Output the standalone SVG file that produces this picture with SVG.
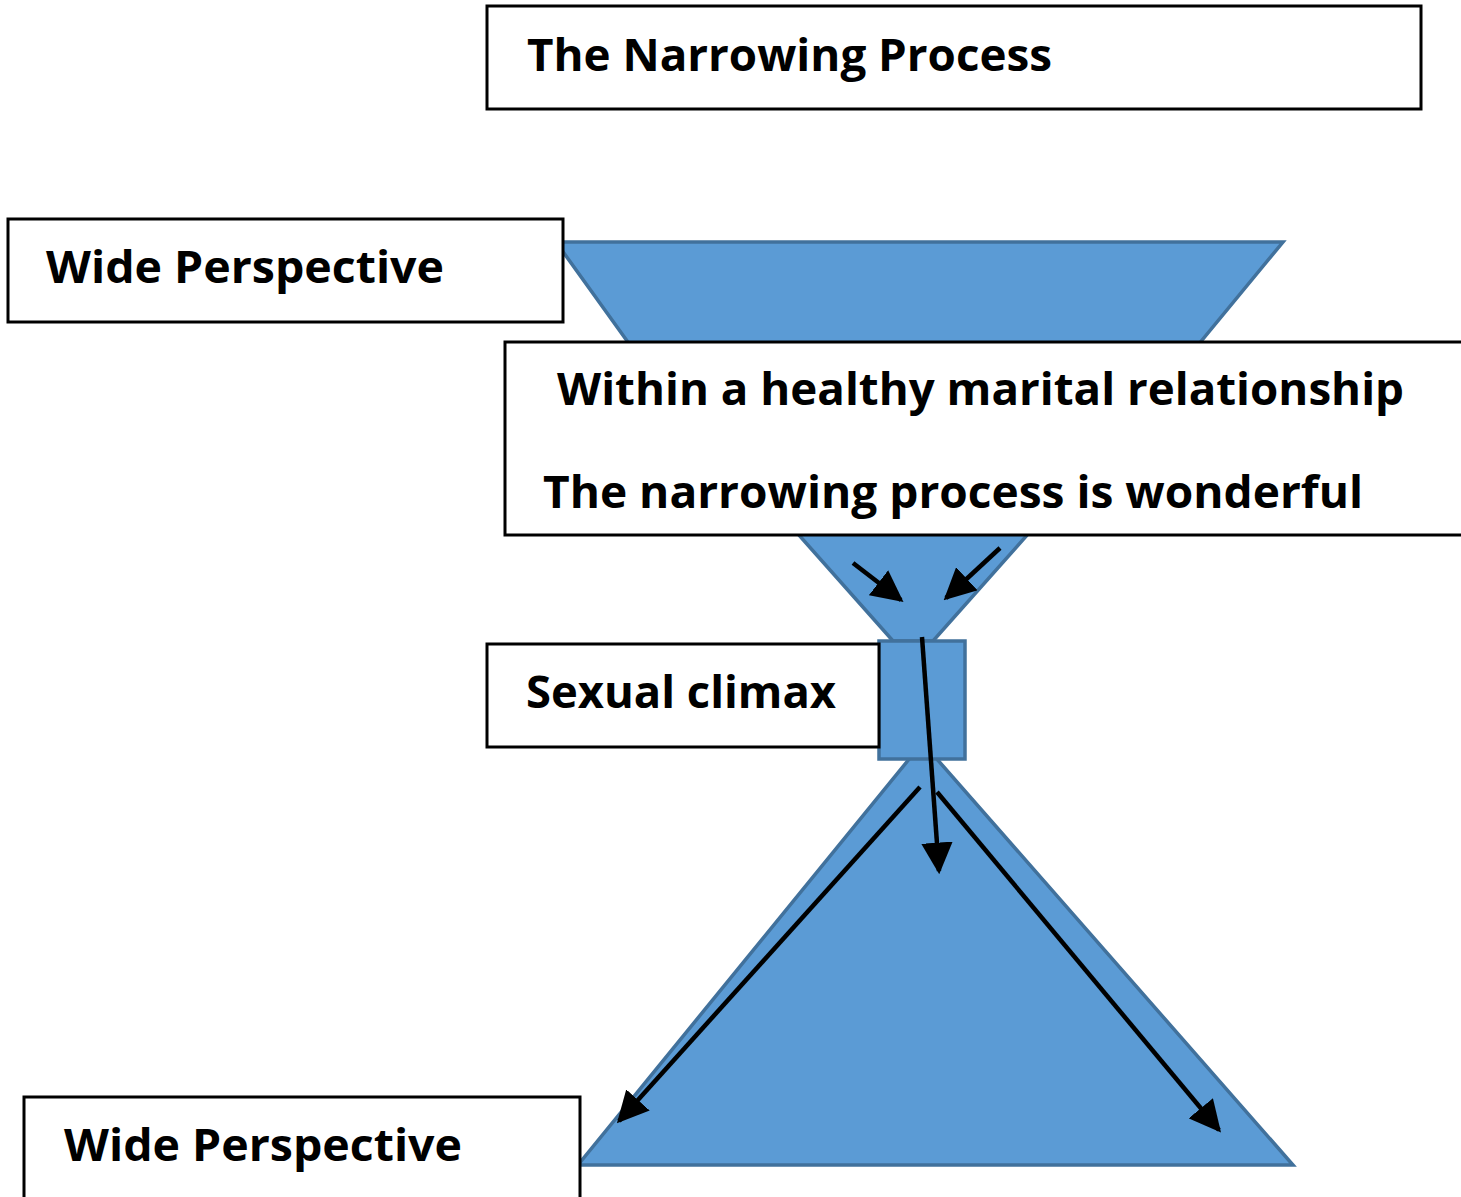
<svg xmlns="http://www.w3.org/2000/svg" width="1461" height="1197" viewBox="0 0 1461 1197">
<defs>
<style>
.box{fill:#fff;stroke:#000;stroke-width:3}
.shape{fill:#5B9BD5;stroke:#41719C;stroke-width:3.5}
.t{font-family:"Open Sans","Noto Sans",sans-serif;font-weight:bold;font-size:44px;fill:#000}
.arr{stroke:#000;stroke-width:4.5;fill:none}
</style>
<marker id="ah" viewBox="0 0 10 10" refX="9" refY="5" markerWidth="7" markerHeight="7" markerUnits="strokeWidth" orient="auto">
<path d="M0,0 L10,5 L0,10 z" fill="#000"/>
</marker>
</defs>
<rect width="1461" height="1197" fill="#fff"/>
<g id="funnel-top">
<polygon class="shape" points="556,242 1283,242 1198,345 630,345"/>
</g>
<g id="funnel-lower">
<polygon class="shape" points="790,525 1036,525 933,641 893,641"/>
</g>
<g id="bottom-triangle">
<polygon class="shape" points="910,758 936,758 1293,1165 578,1165"/>
</g>
<g id="neck">
<rect class="shape" x="879" y="641" width="86" height="118"/>
</g>
<g id="title">
<rect class="box" x="487" y="6" width="934" height="103"/>
<text class="t" x="527" y="71" textLength="525" lengthAdjust="spacingAndGlyphs">The Narrowing Process</text>
</g>
<g id="wide-top">
<rect class="box" x="8" y="219" width="555" height="103"/>
<text class="t" x="46" y="283" textLength="398" lengthAdjust="spacingAndGlyphs">Wide Perspective</text>
</g>
<g id="within">
<rect class="box" x="505" y="342" width="970" height="193"/>
<text class="t" x="557" y="405" textLength="847" lengthAdjust="spacingAndGlyphs">Within a healthy marital relationship</text>
<text class="t" x="543" y="508" textLength="820" lengthAdjust="spacingAndGlyphs">The narrowing process is wonderful</text>
</g>
<g id="climax">
<rect class="box" x="487" y="644" width="392" height="103"/>
<text class="t" x="526" y="708" textLength="310" lengthAdjust="spacingAndGlyphs">Sexual climax</text>
</g>
<g id="wide-bottom">
<rect class="box" x="24" y="1097" width="556" height="110"/>
<text class="t" x="64" y="1161" textLength="398" lengthAdjust="spacingAndGlyphs">Wide Perspective</text>
</g>
<g id="connectors">
<line class="arr" x1="853" y1="563" x2="901" y2="600" marker-end="url(#ah)"/>
<line class="arr" x1="1000" y1="548" x2="946" y2="598" marker-end="url(#ah)"/>
<line class="arr" x1="922" y1="637" x2="939" y2="871" marker-end="url(#ah)"/>
<line class="arr" x1="920" y1="787" x2="619" y2="1121" marker-end="url(#ah)"/>
<line class="arr" x1="937" y1="792" x2="1219" y2="1130" marker-end="url(#ah)"/>
</g>
</svg>
